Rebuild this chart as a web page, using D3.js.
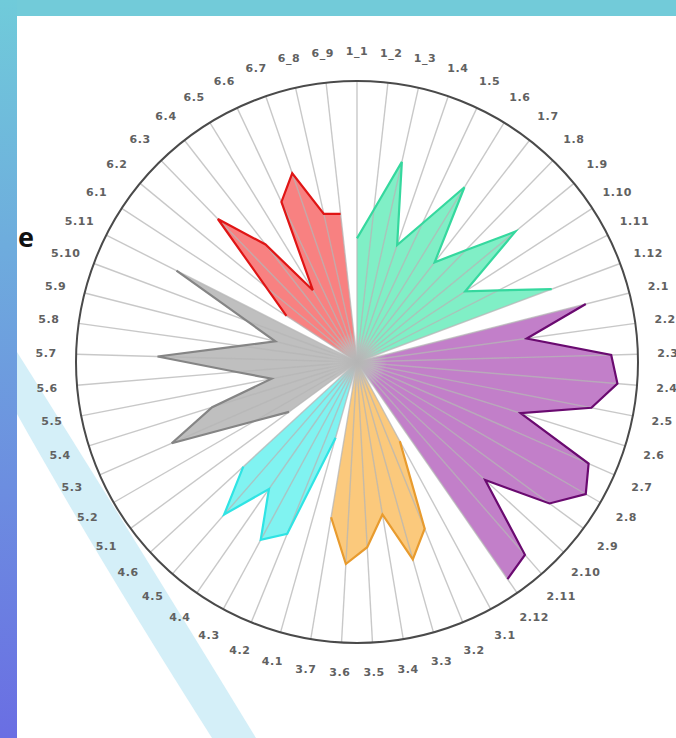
<!DOCTYPE html>
<html>
<head>
<meta charset="utf-8">
<script src="https://cdn.jsdelivr.net/npm/d3@7"></script>
<style>
  body { margin: 0; background: #fff; }
  svg { display: block; }
</style>
</head>
<body>
<div id="chart"></div>
<script>
var w = 676, h = 738;
var cx = 357, cy = 362, R = 281;

var labels = ["1_1", "1_2", "1_3", "1.4", "1.5", "1.6", "1.7", "1.8", "1.9", "1.10", "1.11", "1.12",
  "2.1", "2.2", "2.3", "2.4", "2.5", "2.6", "2.7", "2.8", "2.9", "2.10", "2.11", "2.12",
  "3.1", "3.2", "3.3", "3.4", "3.5", "3.6", "3.7",
  "4.1", "4.2", "4.3", "4.4", "4.5", "4.6",
  "5.1", "5.2", "5.3", "5.4", "5.5", "5.6", "5.7", "5.8", "5.9", "5.10", "5.11",
  "6.1", "6.2", "6.3", "6.4", "6.5", "6.6", "6.7", "6_8", "6_9"];

var values1 = [0.44, 0.545, 0.73, 0.44, 0.545, 0.73, 0.45, 0.555, 0.73, 0.46, 0.565, 0.74];
var values2 = [0.84, 0.61, 0.905, 0.93, 0.85, 0.61, 0.90, 0.94, 0.85, 0.62, 0.91, 0.94];
var values3 = [0.32, 0.64, 0.73, 0.55, 0.66, 0.72, 0.56];
var values4 = [0.28, 0.66, 0.72, 0.55, 0.72, 0.55];
var values5 = [0.30, 0.42, 0.72, 0.54, 0.31, 0.43, 0.71, 0.42, 0.30, 0.42, 0.72];
var values6 = [0.30, 0.42, 0.71, 0.53, 0.30, 0.63, 0.71, 0.54, 0.53];

var series = [values1, values2, values3, values4, values5, values6];
var fills = ["#80efc6", "#c27fc9", "#fbc97c", "#80f3f1", "#bfbfbf", "#f88181"];
var strokes = ["#35d89e", "#6a0a70", "#e89b2e", "#2fe4e4", "#858585", "#e01515"];

var svg = d3.select("#chart").append("svg")
  .attr("width", w)
  .attr("height", h);

var defs = svg.append("defs");

var side = defs.append("linearGradient")
  .attr("id", "side")
  .attr("x1", 0).attr("y1", 0).attr("x2", 0).attr("y2", 1);
side.append("stop").attr("offset", "0%").attr("stop-color", "#70cbda");
side.append("stop").attr("offset", "100%").attr("stop-color", "#6a6ee3");

var hub = defs.append("radialGradient").attr("id", "hub");
hub.append("stop").attr("offset", "0%").attr("stop-color", "#b4b4b4").attr("stop-opacity", 0.95);
hub.append("stop").attr("offset", "55%").attr("stop-color", "#bdbdbd").attr("stop-opacity", 0.6);
hub.append("stop").attr("offset", "100%").attr("stop-color", "#c4c4c4").attr("stop-opacity", 0);

svg.append("rect")
  .attr("width", w)
  .attr("height", h)
  .style("fill", "#fff");

// light swoosh behind the chart
svg.append("path")
  .attr("d", "M17,352 Q128,528 256,738 L212,738 Q100,562 17,414 Z")
  .style("fill", "#d4eff8");

svg.append("text")
  .attr("x", 18)
  .attr("y", 247)
  .style("font-family", "'Open Sans', sans-serif")
  .style("font-weight", "bold")
  .style("font-size", "27px")
  .style("fill", "#111")
  .text("e");

var n = labels.length;
var angle = d3.scaleLinear().domain([0, n]).range([0, 2 * Math.PI]);
var radius = d3.scaleLinear().domain([0, 1]).range([0, R]);

var g = svg.append("g")
  .attr("transform", "translate(" + cx + "," + cy + ")");

var area = d3.lineRadial()
  .angle(function(d) { return angle(d.i); })
  .radius(function(d) { return radius(d.v); })
  .curve(d3.curveLinearClosed);

var edge = d3.lineRadial()
  .angle(function(d) { return angle(d.i); })
  .radius(function(d) { return radius(d.v); });

var start = 0;
var groups = series.map(function(vals, k) {
  var pts = vals.map(function(v, j) { return { i: start + j, v: v }; });
  start += vals.length;
  return { k: k, pts: pts };
});

g.selectAll(".petal")
  .data(groups)
.enter().append("path")
  .attr("class", "petal")
  .attr("d", function(d) { return area([{ i: d.pts[0].i, v: 0 }].concat(d.pts)); })
  .style("fill", function(d) { return fills[d.k]; })
  .style("stroke", "none");

g.selectAll(".spoke")
  .data(labels)
.enter().append("line")
  .attr("class", "spoke")
  .attr("x1", 0)
  .attr("y1", 0)
  .attr("x2", function(d, i) { return radius(1) * Math.sin(angle(i)); })
  .attr("y2", function(d, i) { return -radius(1) * Math.cos(angle(i)); })
  .style("stroke", "#b6b6b6")
  .style("stroke-opacity", 0.75)
  .style("stroke-width", 1.4);

g.append("circle")
  .attr("r", 30)
  .style("fill", "url(#hub)");

g.selectAll(".outline")
  .data(groups)
.enter().append("path")
  .attr("class", "outline")
  .attr("d", function(d) { return edge(d.pts); })
  .style("fill", "none")
  .style("stroke", function(d) { return strokes[d.k]; })
  .style("stroke-width", 2.2)
  .style("stroke-linejoin", "miter");

g.append("circle")
  .attr("r", radius(1))
  .style("fill", "none")
  .style("stroke", "#4a4a4a")
  .style("stroke-width", 2);

g.selectAll(".label")
  .data(labels)
.enter().append("text")
  .attr("class", "label")
  .attr("x", function(d, i) { return 311 * Math.sin(angle(i)); })
  .attr("y", function(d, i) { return -311 * Math.cos(angle(i)); })
  .attr("dy", ".35em")
  .attr("text-anchor", "middle")
  .style("font-family", "'DejaVu Sans', sans-serif")
  .style("font-size", "11px")
  .style("font-weight", "bold")
  .style("letter-spacing", "0.6px")
  .style("fill", "#616161")
  .text(String);

svg.append("rect")
  .attr("x", 0).attr("y", 0)
  .attr("width", w).attr("height", 16)
  .style("fill", "#72cbd9");

svg.append("rect")
  .attr("x", 0).attr("y", 0)
  .attr("width", 17).attr("height", h)
  .style("fill", "url(#side)");
</script>
</body>
</html>
